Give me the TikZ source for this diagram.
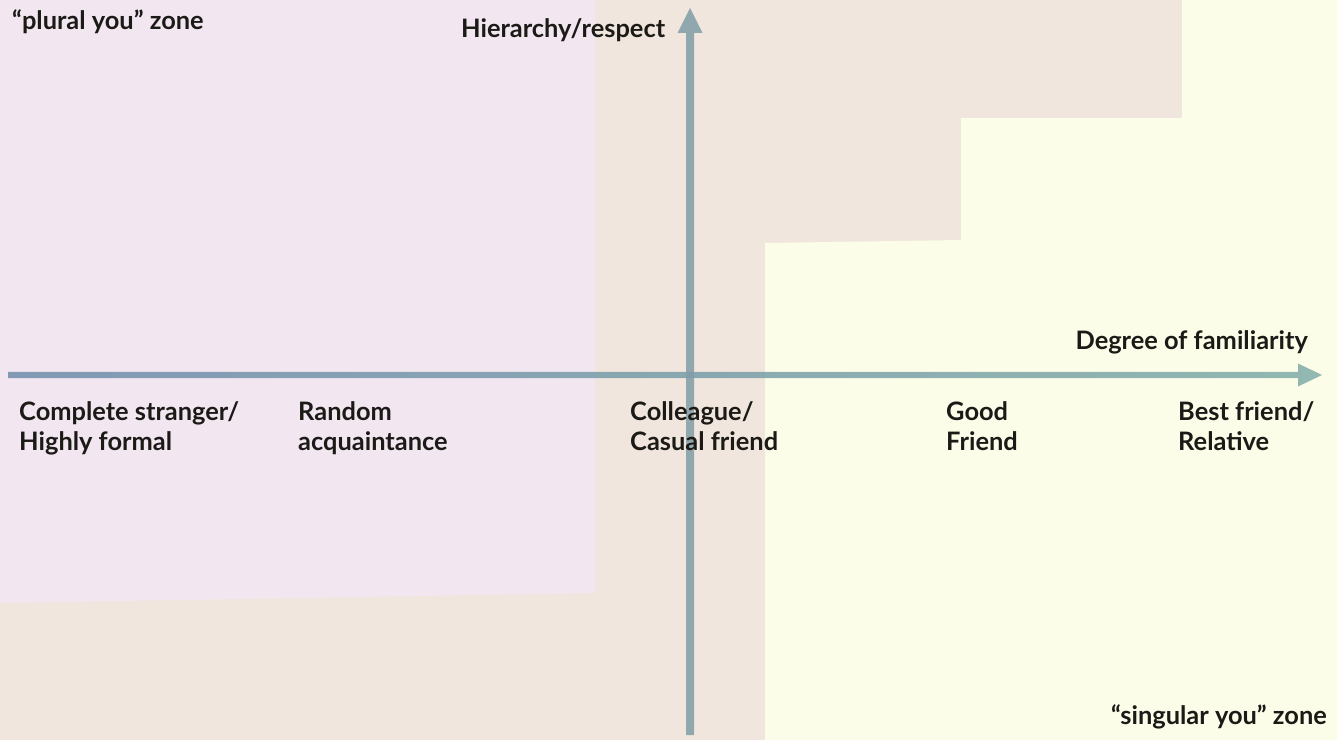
\documentclass[tikz,border=0pt]{standalone}
\usepackage{fontspec}
\setmainfont{Lato}[UprightFont=* Bold]
\usetikzlibrary{calc}
\definecolor{bgbeige}{RGB}{240,230,221}
\definecolor{bgpink}{RGB}{242,231,240}
\definecolor{bgyellow}{RGB}{252,253,233}
\definecolor{axisv}{RGB}{128,156,166}
\definecolor{axishl}{RGB}{110,140,170}
\definecolor{axishr}{RGB}{128,172,168}
\definecolor{ink}{RGB}{28,26,22}
\begin{document}
\begin{tikzpicture}[x=1bp,y=-1bp,
  lbl/.style={anchor=west,text=ink,font=\fontsize{25.5}{30}\selectfont,align=left,inner sep=0pt,text height=19bp,text depth=6bp},
  axisarrow/.style={fill opacity=0.85}]
\useasboundingbox (0,0) rectangle (1337,740);
% backgrounds
\fill[bgbeige] (0,0) rectangle (1337,740);
\fill[bgpink] (0,0) -- (595,0) -- (595,593) -- (0,603) -- cycle;
\fill[bgyellow] (765,740) -- (765,243) -- (961,240) -- (961,118) -- (1182,118) -- (1182,0) -- (1337,0) -- (1337,740) -- cycle;
% axis coordinates
\coordinate (hl) at (8,375);
\coordinate (hr) at (1322,375);
\coordinate (vb) at (690,735);
\coordinate (vt) at (690,8);
% horizontal axis (gradient)
\shade[left color=axishl,right color=axishr,axisarrow]
  ($(hl)+(0,-3.2)$) -- ($(hr)+(-24,-3.2)$) -- ($(hr)+(-24,-11.5)$) -- (hr)
  -- ($(hr)+(-24,11.5)$) -- ($(hr)+(-24,3.2)$) -- ($(hl)+(0,3.2)$) -- cycle;
% vertical axis
\fill[axisv,axisarrow]
  ($(vb)+(-4,0)$) -- ($(vt)+(-4,25)$) -- ($(vt)+(-12.5,25)$) -- (vt)
  -- ($(vt)+(12.5,25)$) -- ($(vt)+(4,25)$) -- ($(vb)+(4,0)$) -- cycle;
% labels
\node[lbl] (plural) at (12,23) {“plural you” zone};
\node[lbl] (hier) at (461,31) {Hierarchy/respect};
\node[lbl,anchor=east] (deg) at (1308,343) {Degree of familiarity};
\node[lbl] (c1) at (19,444) {Complete stranger/\\Highly formal};
\node[lbl] (c2) at (298,444) {Random\\acquaintance};
\node[lbl] (c3) at (630,444) {Colleague/\\Casual friend};
\node[lbl] (c4) at (946,444) {Good\\Friend};
\node[lbl] (c5) at (1178,444) {Best friend/\\Relative};
\node[lbl,anchor=east] (singular) at (1327,718) {“singular you” zone};
\end{tikzpicture}
\end{document}
